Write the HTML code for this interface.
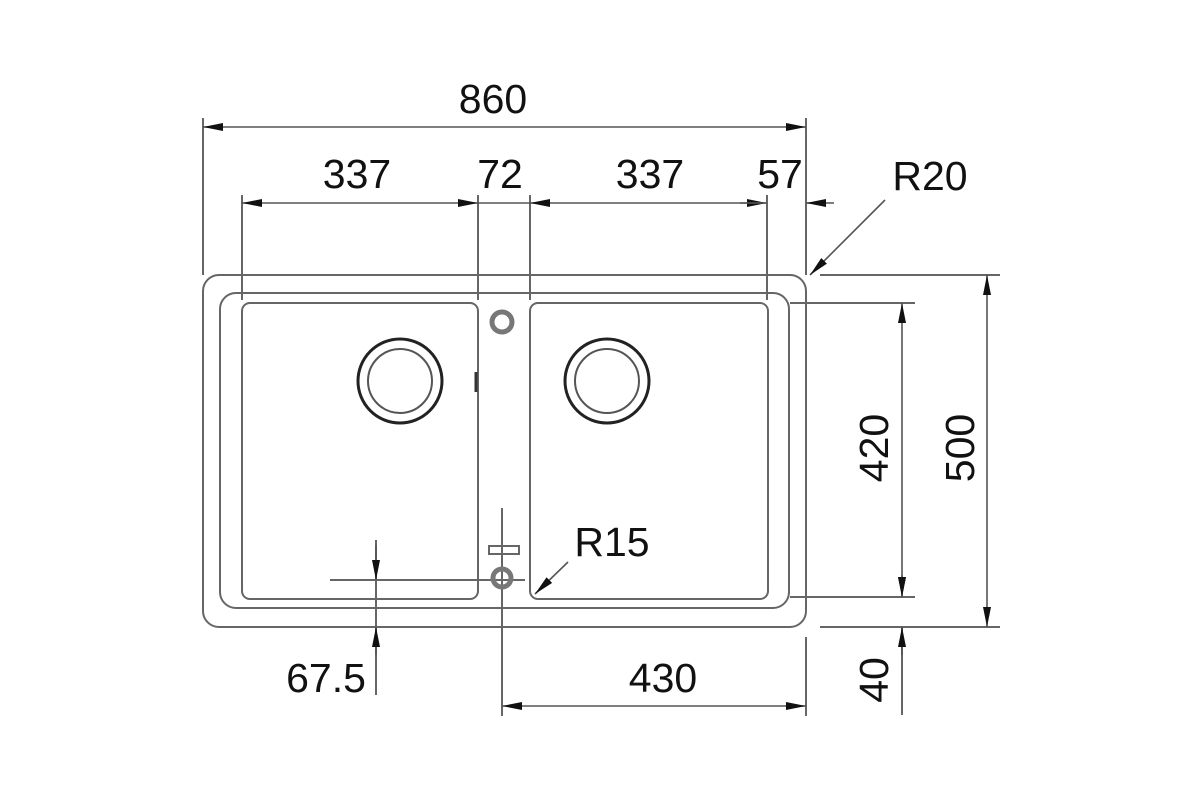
<!DOCTYPE html>
<html><head><style>
html,body{margin:0;padding:0;background:#fff;}
svg text{font-family:"Liberation Sans",sans-serif;font-size:41px;fill:#111;}
</style></head><body>
<svg width="1200" height="800" viewBox="0 0 1200 800" xmlns="http://www.w3.org/2000/svg">
<defs>
<marker id="a" viewBox="0 0 20 8" refX="20" refY="4" markerWidth="20" markerHeight="8" markerUnits="userSpaceOnUse" orient="auto-start-reverse"><path d="M0,0 L20,4 L0,8z" fill="#111"/></marker>
</defs>
<g fill="none" stroke="#666" stroke-width="2">
<rect x="203" y="275" width="603" height="352" rx="16"/>
<rect x="220" y="293" width="569" height="315" rx="16"/>
<rect x="242" y="303" width="236" height="296" rx="8"/>
<rect x="530" y="303" width="238" height="296" rx="8"/>
<line x1="203" y1="118" x2="203" y2="275"/>
<line x1="806" y1="118" x2="806" y2="275"/>
<line x1="242" y1="195" x2="242" y2="300"/>
<line x1="478" y1="195" x2="478" y2="300"/>
<line x1="530" y1="195" x2="530" y2="300"/>
<line x1="767" y1="195" x2="767" y2="300"/>
<line x1="820" y1="275" x2="1000" y2="275"/>
<line x1="790" y1="303" x2="915" y2="303"/>
<line x1="790" y1="597" x2="915" y2="597"/>
<line x1="820" y1="627" x2="1000" y2="627"/>
<line x1="806" y1="637" x2="806" y2="716"/>
<line x1="502" y1="508" x2="502" y2="716"/>
<line x1="330" y1="580" x2="525" y2="580"/>
<line x1="376" y1="540" x2="376" y2="695"/>
<line x1="902" y1="627" x2="902" y2="715"/>
</g>
<g stroke="#555" stroke-width="1.6" fill="none">
<line x1="203" y1="127" x2="806" y2="127" marker-start="url(#a)" marker-end="url(#a)"/>
<line x1="242" y1="203" x2="478" y2="203" marker-start="url(#a)" marker-end="url(#a)"/>
<line x1="530" y1="203" x2="767" y2="203" marker-start="url(#a)" marker-end="url(#a)"/>
<line x1="478" y1="203" x2="530" y2="203"/>
<line x1="806" y1="203" x2="834" y2="203" marker-start="url(#a)"/>
<line x1="740" y1="203" x2="767" y2="203"/>
<line x1="885" y1="200" x2="810" y2="275" marker-end="url(#a)"/>
<line x1="568" y1="562" x2="535" y2="594" marker-end="url(#a)"/>
<line x1="376" y1="545" x2="376" y2="580" marker-end="url(#a)"/>
<line x1="376" y1="655" x2="376" y2="627" marker-end="url(#a)"/>
<line x1="502" y1="706" x2="806" y2="706" marker-start="url(#a)" marker-end="url(#a)"/>
<line x1="902" y1="303" x2="902" y2="597" marker-start="url(#a)" marker-end="url(#a)"/>
<line x1="987" y1="275" x2="987" y2="627" marker-start="url(#a)" marker-end="url(#a)"/>
<line x1="902" y1="575" x2="902" y2="597" marker-end="url(#a)"/>
<line x1="902" y1="655" x2="902" y2="627" marker-end="url(#a)"/>
</g>
<g fill="none">
<circle cx="400" cy="381" r="42" stroke="#222" stroke-width="3"/>
<circle cx="400" cy="381" r="32" stroke="#555" stroke-width="2"/>
<circle cx="607" cy="381" r="42" stroke="#222" stroke-width="3"/>
<circle cx="607" cy="381" r="32" stroke="#555" stroke-width="2"/>
<circle cx="502" cy="322" r="10" stroke="#777" stroke-width="5"/>
<circle cx="502" cy="578" r="9" stroke="#777" stroke-width="5"/>
<rect x="489" y="546" width="30" height="8" stroke="#666" stroke-width="2"/>
<line x1="476" y1="372" x2="476" y2="392" stroke="#333" stroke-width="3"/>
</g>
<text x="493" y="113" text-anchor="middle">860</text>
<text x="357" y="188" text-anchor="middle">337</text>
<text x="500" y="188" text-anchor="middle">72</text>
<text x="650" y="188" text-anchor="middle">337</text>
<text x="780" y="188" text-anchor="middle">57</text>
<text x="930" y="190" text-anchor="middle">R20</text>
<text x="612" y="556" text-anchor="middle">R15</text>
<text x="326" y="692" text-anchor="middle">67.5</text>
<text x="663" y="692" text-anchor="middle">430</text>
<text transform="translate(888,448) rotate(-90)" text-anchor="middle">420</text>
<text transform="translate(974,448) rotate(-90)" text-anchor="middle">500</text>
<text transform="translate(888,680) rotate(-90)" text-anchor="middle">40</text>
</svg>
</body></html>
